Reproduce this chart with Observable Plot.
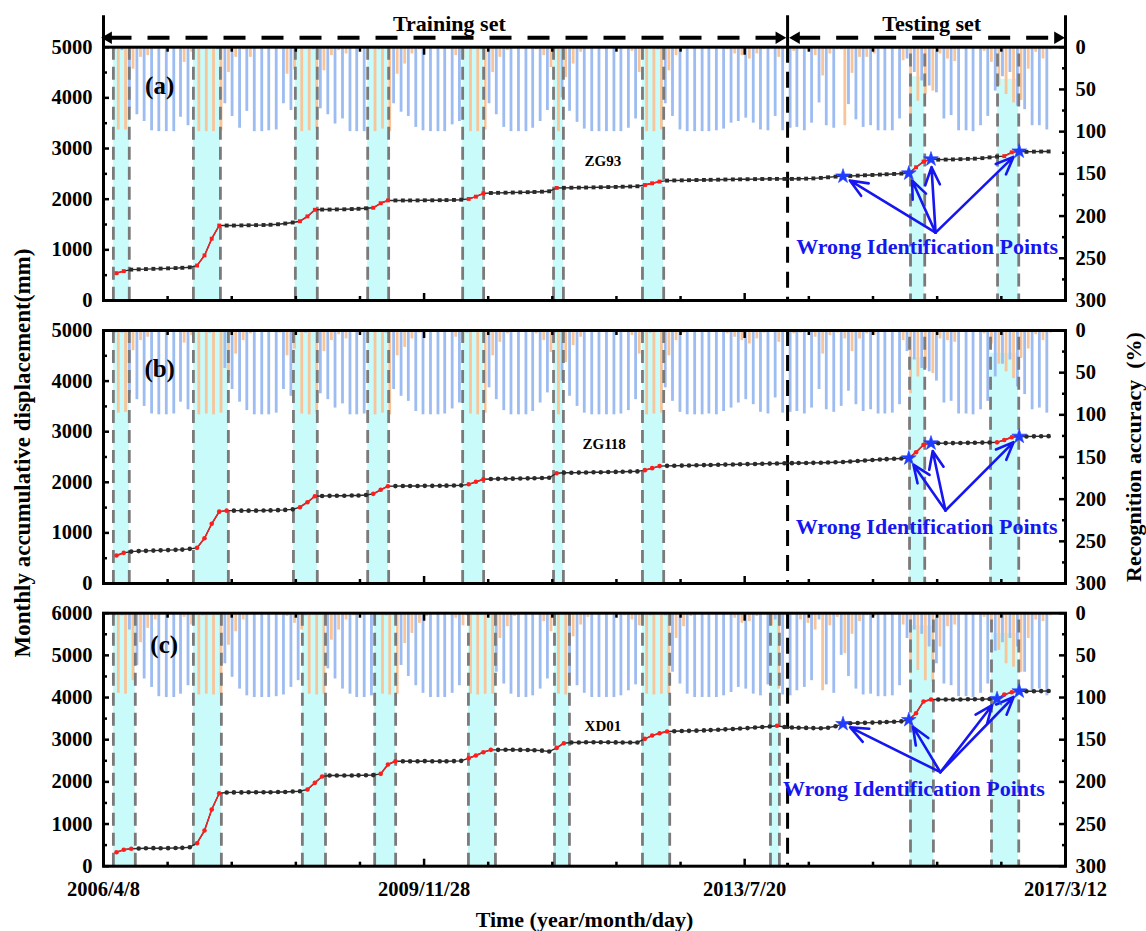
<!DOCTYPE html>
<html><head><meta charset="utf-8">
<script src="https://cdn.jsdelivr.net/npm/d3@7"></script>
<script src="https://cdn.jsdelivr.net/npm/@observablehq/plot@0.6"></script>
<style>
html,body{margin:0;padding:0;background:#fff;}
#chart{position:relative;width:1146px;height:931px;overflow:hidden;background:#fff;}
#chart svg{position:absolute;left:0;}
</style></head><body><div id="chart"></div>
<script>
// ---------- data ----------
const firstMonth = "2006-06-01";          // monthly observations, 128 months
const lastMonthExclusive = "2017-02-01";
const xStart = "2006-04-08", xEnd = "2017-03-12";
const splitDate = "2014-01-14";           // end of training set
const xTickDates = ["2006-04-08","2009-11-28","2013-07-20","2017-03-12"];
const xTickLabels = ["2006/4/8","2009/11/28","2013/7/20","2017/3/12"];
const accTicks = [0,50,100,150,200,250,300];

// Panel (a) ZG93
const dispA = [540,580, 610,615,620,625,630,635,640,645,655, 690,890,1220,1480,
 1480,1480,1482,1485,1488,1490,1495,1505,1520,1540, 1565,1660,1790,
 1795,1795,1798,1800,1805,1810,1820, 1830,1920,1975,
 1975,1975,1975,1976,1978,1978,1980,1982,1985,1990, 2005,2050,2115,
 2122,2125,2128,2131,2135,2138,2142,2148,2156, 2222,
 2224,2226,2228,2230,2233,2236,2239,2242,2246,2250,2255, 2280,2314,2347,
 2367,2370,2372,2375,2378,2380,2382,2385,2388,2390,2392,2394,2396,2398,2400,2400,2400,2400,2402,2405,2410,2420,2432,2445,
 2452, 2458,2465,2472,2478,2485,2492,2498,2505, 2512, 2630,2742, 2790,
 2780,2782,2785,2790,2795,2800,2810,2825,2840, 2850,2925, 2945, 2935,2938,2940,2942];
const blueA = [3,4, 73,80,88,99,100,100,100,83,93, 2,2,2,3,
 67,82,96,76,100,100,99,98,67,75, 2,2,3, 73,80,91,85,100,100,100, 2,3,2,
 67,77,82,95,99,100,100,100,92,88, 2,2,3, 67,80,95,100,100,100,96,88,75, 3,
 60,76,89,97,100,100,100,100,100,96,85, 2,2,3,
 67,82,98,100,100,100,100,99,97,90,88,84,90,98,99,82,99,
 96,95,99,90,66,93,96,3,68,86,95,93,99,99,99,85,
 14,30,40,46, 54,85,81,99,99,100,93,82, 52,35,30,70, 74,93,93,98];
const orangeA = [98,98, 26,12,10,2,1,1,1,18,6, 100,100,100,99,
 30,12,3,12,1,1,1,2,32,27, 100,99,97, 28,10,4,8,1,1,1, 100,97,100,
 32,20,8,3,1,1,1,2,10,14, 100,100,98, 30,12,4,1,1,1,3,10,24, 100,
 36,20,6,2,1,1,1,1,1,5,30, 100,100,98,
 28,10,2,1,1,1,1,1,3,8,10,14,8,2,1,12,1,
 5,2,3,10,34,8,3,93,31,12,12,8,1,1,2,16,
 86,64,56,52, 8,14,17,1,1,1,5,18, 46,56,66,63, 26,6,14,3];
const bandsA = [["2006-05-19","2006-07-24"],["2007-04-16","2007-08-06"],["2008-06-12","2008-09-11"],
 ["2009-04-08","2009-07-04"],["2010-05-07","2010-08-02"],["2011-05-19","2011-06-29"],
 ["2012-05-22","2012-08-18"],["2015-06-08","2015-08-06"],["2016-06-03","2016-08-30"]];
const bandTopA = [0,0,0,0,0,0,0,35,38];
const redRunsA = [[0,1],[11,14],[25,27],[35,37],[48,50],[60,60],[72,74],[108,111],[121,123]];
const starsA = [99,108,111,123];

// Panel (b) ZG118
const dispB = [553,606, 630,640,645,650,655,660,665,670,685, 705,895,1180,1420,1440,
 1440,1440,1440,1440,1442,1445,1450,1455,1465, 1508,1607,1725,
 1730,1732,1735,1735,1738,1740,1750, 1772,1852,1923,
 1925,1926,1927,1928,1930,1930,1932,1934,1936,1940, 1960,2010,2060,
 2065,2068,2070,2072,2075,2078,2081,2085,2090, 2180,
 2188,2190,2192,2195,2198,2200,2203,2206,2209,2212,2215, 2240,2280,2320,
 2325,2328,2330,2333,2336,2340,2343,2346,2350,2353,2356,2360,2363,2366,2370,2373,2376,2378,2380,2382,2384,2386,2390,2395,
 2400,2410,2420,2430,2440,2450,2458,2465,2470, 2477, 2595,2741, 2773,
 2773,2775,2775,2778,2780,2782,2785,2788, 2790,2836,2890, 2905, 2905,2908,2910,2912];
const blueB = [3,3, 75,82,90,99,100,100,99,85,94, 2,2,3,2,45,
 70,85,95,100,100,100,98,70,78, 2,3,2, 75,82,92,87,100,100,99, 2,2,3,
 70,78,84,96,100,100,100,99,93,86, 3,2,2, 68,82,95,100,100,100,96,86,74, 3,
 60,78,90,98,100,100,100,100,99,95,82, 2,3,2,
 68,84,97,100,100,100,99,100,96,92,86,82,88,97,99,80,98,
 97,96,99,92,70,94,97,90,72,88,96,94,99,99,98,88,
 25,35,45,49, 60,86,84,99,99,100,94,84, 55,40,35,67, 76,94,92,98];
const orangeB = [98,97, 24,12,8,2,1,1,2,15,6, 100,99,100,98,55,
 28,12,4,1,1,1,3,30,22, 99,100,98, 25,12,5,10,1,1,1, 100,98,100,
 30,20,10,3,1,1,1,2,8,15, 99,100,98, 30,14,4,1,1,1,4,12,26, 100,
 38,18,8,2,1,1,1,1,2,6,28, 100,99,98,
 30,12,3,1,1,1,1,1,4,8,12,16,10,3,1,14,2,
 4,3,2,8,28,6,3,10,25,10,4,6,1,1,2,12,
 75,55,45,51, 10,12,14,1,1,1,4,16, 40,49,57,33, 22,5,12,3];
const bandsB = [["2006-05-19","2006-07-24"],["2007-04-16","2007-09-08"],["2008-06-04","2008-09-11"],
 ["2009-04-08","2009-07-04"],["2010-05-07","2010-08-02"],["2011-05-19","2011-06-29"],
 ["2012-05-22","2012-08-18"],["2015-06-04","2015-08-06"],["2016-05-05","2016-08-30"]];
const bandTopB = [0,0,0,0,0,0,0,32,27];
const redRunsB = [[0,1],[11,15],[25,27],[35,37],[48,50],[60,60],[72,74],[108,111],[120,123]];
const starsB = [108,111,123];

// Panel (c) XD01
const dispC = [332,389,413, 420,425,428,425,428,430,435,450, 545,846,1344,1731,
 1747,1750,1750,1752,1752,1755,1755,1758,1760,1770,1779, 1818,1977,2127,
 2150,2150,2152,2152,2155,2158,2160, 2190,2412,2490,
 2490,2490,2490,2492,2490,2488,2490,2492,2498, 2561,2625,2704,2759,
 2759,2760,2760,2758,2755,2750,2740,2720, 2806,2917,
 2932,2935,2938,2940,2940,2938,2936,2935,2932,2935, 3020,3098,3154,3194,
 3200,3205,3210,3215,3220,3228,3235,3245,3255,3265,3275,3290,3300,3313, 3330,
 3300,3290,3285,3280,3275,3270,3285,3320, 3376,
 3390,3395,3400,3405,3410,3418,3425,3435, 3471, 3629,3906,3953,
 3953,3955,3955,3955,3958,3960,3962,3965, 3969, 4070,4125, 4149, 4150,4150,4152,4155];
const blueC = [3,3,20, 62,78,88,99,100,100,96,86, 2,3,2,2,
 60,76,90,98,100,100,100,99,97,88,80, 3,2,2, 66,78,90,96,100,100,98, 2,3,2,
 62,75,86,95,100,100,100,95,86, 3,2,2,3, 70,84,96,100,100,98,90,78, 3,2,
 72,86,95,100,100,100,100,98,92,85, 2,3,2,3,
 70,84,96,100,100,100,100,98,94,88,90,96,98,85, 8,
 97,98,92,88,80,8,85,95, 50, 75,90,97,96,99,99,98,86,
 30,20,25,40, 60,84,86,99,99,100,95,84, 45,35,30,40, 70,92,90,98];
const orangeC = [95,96,80, 35,18,8,1,1,1,5,14, 97,96,97,96,
 38,22,8,2,1,1,1,2,4,12,20, 96,97,96, 32,20,8,3,1,1,3, 96,97,96,
 36,24,12,4,1,1,1,6,15, 96,97,96,96, 30,16,4,1,1,2,10,22, 96,97,
 28,14,5,1,1,1,1,3,8,15, 96,97,96,96,
 30,16,4,1,1,1,1,2,6,12,10,4,2,15, 90,
 3,2,8,12,20,92,15,5, 48, 25,10,3,4,1,1,2,14,
 72,68,80,82, 40,16,14,1,1,1,5,16, 44,60,64,70, 30,8,10,3];
const bandsC = [["2006-05-19","2006-08-18"],["2007-04-16","2007-08-10"],["2008-07-11","2008-10-15"],
 ["2009-05-07","2009-08-02"],["2010-05-31","2010-09-20"],["2011-05-23","2011-07-24"],
 ["2012-05-22","2012-09-12"],["2013-11-04","2013-12-11"],["2015-06-08","2015-09-11"],["2016-05-09","2016-08-30"]];
const bandTopC = [0,0,0,0,0,0,0,0,15,24];
const redRunsC = [[0,2],[11,14],[26,28],[36,38],[48,51],[60,61],[72,75],[90,90],[108,111],[120,123]];
const starsC = [99,108,120,123];

// ---------- layout / style ----------
const FONT = '"Liberation Serif","Times New Roman",serif';
const parse = d3.utcParse("%Y-%m-%d");
const months = d3.utcMonth.range(parse(firstMonth), parse(lastMonthExclusive));
const xDomain = [parse(xStart), parse(xEnd)];
const majorX = xTickDates.map(parse);
const minorX = d3.pairs(majorX).flatMap(([a,b]) => [1,2,3,4].map(k => new Date(+a + (b-a)*k/5)));
const labelOf = new Map(majorX.map((d,i) => [+d, xTickLabels[i]]));
const split = parse(splitDate);

const COL = {blue:"#9dbcf1", orange:"#f8c499", cyan:"#c8fbfa", dash:"#7a7a7a", red:"#ff1e1e", line:"#2a2a2a", star:"#1f3cff", ann:"#1616f0"};

const panels = [
 {svgTop:0, height:320, mt:46.7, mb:20, ymax:5000, disp:dispA, blue:blueA, orange:orangeA,
  bands:bandsA, bandTop:bandTopA, runs:redRunsA, stars:starsA, symbol:"square", ptR:2.2,
  name:"ZG93", nameAt:["2011-12-10",2747], letter:"(a)", letterAt:["2006-11-27",4241],
  from:["2015-09-20",1340], wrongAt:["2015-08-16",1051]},
 {svgTop:310, height:293, mt:20, mb:20, ymax:5000, disp:dispB, blue:blueB, orange:orangeB,
  bands:bandsB, bandTop:bandTopB, runs:redRunsB, stars:starsB, symbol:"circle", ptR:2.3,
  name:"ZG118", nameAt:["2011-12-15",2747], letter:"(b)", letterAt:["2006-11-27",4243],
  from:["2015-10-31",1443], wrongAt:["2015-08-14",1126]},
 {svgTop:590, height:341, mt:22.7, mb:65.3, ymax:6000, disp:dispC, blue:blueC, orange:orangeC,
  bands:bandsC, bandTop:bandTopC, runs:redRunsC, stars:starsC, symbol:"circle", ptR:2.3,
  name:"XD01", nameAt:["2011-12-10",3330], letter:"(c)", letterAt:["2006-12-16",5234],
  from:["2015-10-10",2229], wrongAt:["2015-06-22",1835]}
];

const chart = document.getElementById("chart");
const txt = {fontFamily: FONT, fontWeight: "bold", fill: "black"};
const intFmt = d3.format("d");

panels.forEach((p, pi) => {
  const rows = months.map((date, i) => ({i, date, disp: p.disp[i], blue: p.blue[i], orange: p.orange[i]}));
  const redSet = new Set(); p.runs.forEach(([a,b]) => { for (let k = a; k <= b; k++) redSet.add(k); });
  const starSet = new Set(p.stars);
  const runRows = p.runs.flatMap(([a,b],k) => rows.slice(a, b+1).map(r => ({...r, run:k})));
  const redPts = rows.filter(r => redSet.has(r.i) && !starSet.has(r.i));
  const blackPts = rows.filter(r => !redSet.has(r.i) && !starSet.has(r.i));
  const starPts = rows.filter(r => starSet.has(r.i));
  const bands = p.bands.map(([s,e],k) => ({s: parse(s), e: parse(e), top: p.bandTop[k]}));
  const edges = bands.flatMap(b => [{x:b.s, top:b.top}, {x:b.e, top:b.top}]);

  const common = {width:1146, height:p.height, marginLeft:103, marginRight:81, marginTop:p.mt, marginBottom:p.mb,
    style:{background:"transparent", overflow:"visible", fontFamily:FONT}};

  // --- recognition-accuracy layer (right axis)
  const acc = Plot.plot({...common,
    x:{type:"utc", domain:xDomain, axis:null},
    y:{domain:[0,300], reverse:true},
    marks:[
      Plot.rect(bands, {x1:"s", x2:"e", y1:"top", y2:() => 300, fill:COL.cyan}),
      Plot.ruleX(rows, {x:"date", y1:() => 0, y2:"blue", stroke:COL.blue, strokeWidth:2.8, dx:-1.8}),
      Plot.ruleX(rows, {x:"date", y1:() => 0, y2:"orange", stroke:COL.orange, strokeWidth:2.8, dx:1.8}),
      Plot.ruleX(edges, {x:"x", y1:d => d.top > 0 ? 8 : 0, y2:() => 300, stroke:COL.dash, strokeWidth:2.8, strokeDasharray:"13,7"}),
      Plot.ruleX([split], {x:d => d, stroke:"black", strokeWidth:3, strokeDasharray:"16,9"}),
      Plot.axisY(accTicks, {anchor:"right", tickSize:-7, strokeWidth:2.5, tickFormat:() => "", label:null}),
      Plot.axisY([25,75,125,175,225,275], {anchor:"right", tickSize:-4, strokeWidth:2.5, tickFormat:() => "", label:null}),
      Plot.axisY(accTicks, {anchor:"right", tickSize:0, tickPadding:10, fontSize:20.5, ...txt, tickFormat:intFmt, label:null})
    ]});

  // --- displacement layer (left axis)
  const leftMajor = d3.range(0, p.ymax + 1, 1000);
  const leftMinor = d3.range(500, p.ymax, 1000);
  const at = (a) => ({date: parse(a[0]), v: a[1]});
  const marks = [
    Plot.line(rows, {x:"date", y:"disp", stroke:COL.line, strokeWidth:1.4}),
    Plot.line(runRows, {x:"date", y:"disp", z:"run", stroke:COL.red, strokeWidth:1.4}),
    Plot.dot(blackPts, {x:"date", y:"disp", symbol:p.symbol, r:p.ptR, fill:COL.line, stroke:null}),
    Plot.dot(redPts, {x:"date", y:"disp", symbol:p.symbol, r:p.ptR, fill:COL.red, stroke:null}),
    Plot.arrow(starPts, {x1:() => parse(p.from[0]), y1:() => p.from[1], x2:"date", y2:"disp",
      stroke:COL.ann, strokeWidth:2.6, headLength:11, headAngle:45, insetEnd:8}),
    Plot.dot(starPts, {x:"date", y:"disp", symbol:"star", r:4.6, fill:COL.star, stroke:COL.star, strokeWidth:0.6}),
    Plot.text([at(p.wrongAt)], {x:"date", y:"v", text:() => "Wrong Identification Points", fontSize:22, ...txt, fill:COL.ann}),
    Plot.text([at(p.nameAt)], {x:"date", y:"v", text:() => p.name, fontSize:15, ...txt}),
    Plot.text([at(p.letterAt)], {x:"date", y:"v", text:() => p.letter, fontSize:25, ...txt}),
    Plot.frame({stroke:"black", strokeWidth:3}),
    Plot.axisY(leftMajor, {anchor:"left", tickSize:-6, strokeWidth:2.5, tickFormat:() => "", label:null}),
    Plot.axisY(leftMinor, {anchor:"left", tickSize:-4, strokeWidth:2.5, tickFormat:() => "", label:null}),
    Plot.axisY(leftMajor, {anchor:"left", tickSize:0, tickPadding:11, fontSize:20.5, ...txt, tickFormat:intFmt, label:null}),
    Plot.axisX(majorX, {anchor:"bottom", tickSize:-7, strokeWidth:2.5, tickFormat:() => "", label:null}),
    Plot.axisX(minorX, {anchor:"bottom", tickSize:-4, strokeWidth:2.5, tickFormat:() => "", label:null}),
    Plot.axisX(majorX, {anchor:"top", tickSize:-7, strokeWidth:2.5, tickFormat:() => "", label:null}),
    Plot.axisX(minorX, {anchor:"top", tickSize:-4, strokeWidth:2.5, tickFormat:() => "", label:null})
  ];
  if (pi === 2) {
    marks.push(Plot.axisX(majorX, {anchor:"bottom", tickSize:0, tickPadding:15, fontSize:20.5, ...txt,
      tickFormat:d => labelOf.get(+d), label:null}));
    marks.push(Plot.text([0], {frameAnchor:"bottom", dy:54, lineAnchor:"middle", textAnchor:"middle",
      text:() => "Time (year/month/day)", fontSize:22, ...txt}));
  }
  if (pi === 1) {
    marks.push(Plot.text([0], {frameAnchor:"left", dx:-81, dy:-4, rotate:-90, lineAnchor:"middle", textAnchor:"middle",
      text:() => "Monthly accumulative displacement(mm)", fontSize:23, ...txt}));
    marks.push(Plot.text([0], {frameAnchor:"right", dx:68, rotate:-90, lineAnchor:"middle", textAnchor:"middle",
      text:() => "Recognition accuracy\u00a0\u00a0(%)", fontSize:22, ...txt}));
  }
  if (pi === 0) {
    const x0 = parse(xStart), x1 = parse(xEnd);
    const hy = 5187, ty = 5464, vTop = 5621;
    marks.push(
      Plot.ruleX([x0, split, x1], {x:d => d, y1:() => 5000, y2:() => vTop, stroke:"black", strokeWidth:3}),
      Plot.ruleY([hy], {y:d => d, x1:() => parse("2006-05-05"), x2:() => parse("2013-12-01"), stroke:"black", strokeWidth:4, strokeDasharray:"22,16"}),
      Plot.ruleY([hy], {y:d => d, x1:() => parse("2014-03-01"), x2:() => parse("2017-02-01"), stroke:"black", strokeWidth:4, strokeDasharray:"22,16"}),
      Plot.dot([{d:"2006-04-28", r:-90},{d:"2013-12-10", r:90},{d:"2014-02-19", r:-90},{d:"2017-02-08", r:90}],
        {x:d => parse(d.d), y:() => hy, symbol:"triangle", rotate:"r", r:4.6, fill:"black", stroke:null}),
      Plot.text([{d:"2010-03-13", t:"Training set"},{d:"2015-09-04", t:"Testing set"}],
        {x:d => parse(d.d), y:() => ty, text:"t", fontSize:22, ...txt})
    );
  }
  const dis = Plot.plot({...common,
    x:{type:"utc", domain:xDomain},
    y:{domain:[0,p.ymax]},
    marks});

  for (const el of [acc, dis]) {
    el.style.position = "absolute";
    el.style.top = p.svgTop + "px";
    el.style.left = "0px";
    chart.appendChild(el);
  }
});
</script></body></html>
